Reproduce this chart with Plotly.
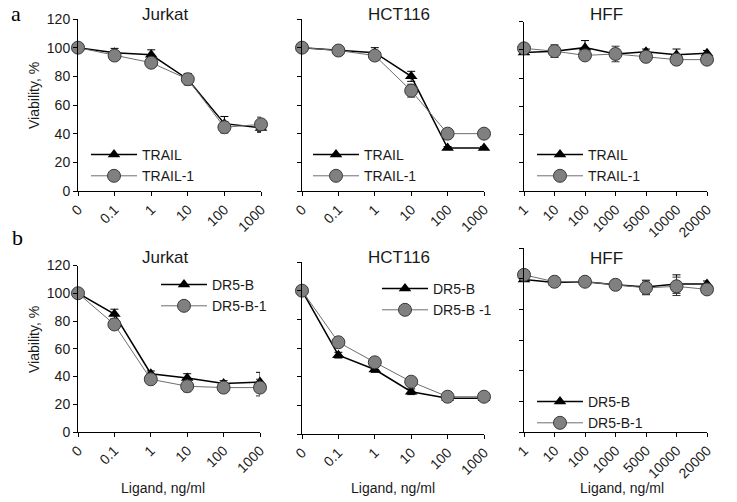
import plotly.graph_objects as go

W, H = 737, 502
OFF = 0  # page body margin is removed below, so page pixels == figure pixels

# ---------------- data ----------------
conc_cancer = ["0", "0.1", "1", "10", "100", "1000"]
conc_hff = ["1", "10", "100", "1000", "5000", "10000", "20000"]

# panel a (TRAIL / TRAIL-1)
jurkat_trail = [100, 96.5, 95, 78, 47, 44]
jurkat_trail_err = [0, 3, 3.5, 4, 5, 3]
jurkat_trail1 = [100, 94.5, 89.5, 78, 44.5, 46.5]
jurkat_trail1_err = [0, 2, 3, 2, 4, 5]

hct_trail = [100, 98, 96.5, 80, 30, 30]
hct_trail_err = [0, 1, 3.5, 3.5, 1, 1]
hct_trail1 = [100, 98, 94.5, 70, 40, 40]
hct_trail1_err = [0, 1, 1.5, 4.5, 1.5, 2]

hff_trail = [98, 99, 101.5, 97, 98.5, 96.5, 97.5]
hff_trail_err = [1, 3, 5, 3, 2, 4, 2]
hff_trail1 = [101, 99, 96, 97, 95, 93, 93]
hff_trail1_err = [1, 4.5, 2, 5.5, 3.5, 2, 2]

# panel b (DR5-B / DR5-B-1)
jurkat_dr5b = [100, 85, 42, 39, 35, 36]
jurkat_dr5b_err = [0, 3.5, 2, 3, 2, 7]
jurkat_dr5b1 = [100, 77.5, 38, 33, 32, 32]
jurkat_dr5b1_err = [0, 2, 2, 4, 3, 6]

hct_dr5b = [100, 55, 45, 29.5, 25, 25]
hct_dr5b_err = [0, 2, 2, 2, 1.5, 1.5]
hct_dr5b1 = [100, 64, 50, 36.5, 26, 26]
hct_dr5b1_err = [0, 1.5, 1.5, 1.5, 1.5, 1.5]

hff_dr5b = [99.5, 97.5, 98, 96, 94.5, 96.5, 96.5]
hff_dr5b_err = [1, 1.5, 1, 1, 4.5, 6, 2]
hff_dr5b1 = [102.5, 98, 98, 96, 94, 95, 93]
hff_dr5b1_err = [1.5, 1.5, 1, 1, 4.5, 6, 1.5]

y_ticks = [0, 20, 40, 60, 80, 100, 120]

# ---------------- layout geometry (page pixels) ----------------
panels = [
    (78, 261, 19, 191, conc_cancer, jurkat_trail, jurkat_trail_err, jurkat_trail1, jurkat_trail1_err,
     "TRAIL", "TRAIL-1", (86, 139)),
    (302, 484, 19, 191, conc_cancer, hct_trail, hct_trail_err, hct_trail1, hct_trail1_err,
     "TRAIL", "TRAIL-1", (308, 139)),
    (524, 707, 21.5, 191, conc_hff, hff_trail, hff_trail_err, hff_trail1, hff_trail1_err,
     "TRAIL", "TRAIL-1", (532, 139)),
    (78, 260, 265.5, 432, conc_cancer, jurkat_dr5b, jurkat_dr5b_err, jurkat_dr5b1, jurkat_dr5b1_err,
     "DR5-B", "DR5-B-1", (156, 269)),
    (302, 484, 262, 434, conc_cancer, hct_dr5b, hct_dr5b_err, hct_dr5b1, hct_dr5b1_err,
     "DR5-B", "DR5-B -1", (377, 273)),
    (524, 707, 248, 432, conc_hff, hff_dr5b, hff_dr5b_err, hff_dr5b1, hff_dr5b1_err,
     "DR5-B", "DR5-B-1", (532, 386)),
]

FONT = "Liberation Sans, Arial, sans-serif"
SERIF = "Liberation Serif, Times New Roman, serif"
TXT = "#1a1a1a"
fig = go.Figure()
layout = dict(
    template="none",
    width=W, height=H, margin=dict(l=0, r=0, t=0, b=0, pad=0),
    paper_bgcolor="white", plot_bgcolor="white",
    font=dict(family=FONT, size=14, color=TXT),
    annotations=[],
)


def px_x(p):
    return (p - OFF) / W


def px_y(p):
    return 1 - (p - OFF) / H


for i, (x0, x1, yt, yb, cats, s1, e1, s2, e2, n1, n2, lpos) in enumerate(panels):
    k = "" if i == 0 else str(i + 1)
    leg = "legend" + k
    fig.add_trace(go.Scatter(
        x=cats, y=s1, name=n1, mode="lines+markers",
        line=dict(color="black", width=1.5),
        marker=dict(symbol="triangle-up", size=11, color="black"),
        error_y=dict(type="data", array=e1, visible=True, color="black", thickness=1, width=4),
        xaxis="x" + k, yaxis="y" + k, legend=leg, cliponaxis=False, hoverinfo="skip",
    ))
    fig.add_trace(go.Scatter(
        x=cats, y=s2, name=n2, mode="lines+markers",
        line=dict(color="#6e6e6e", width=1),
        marker=dict(symbol="circle", size=13, color="#808080", line=dict(color="#3a3a3a", width=1)),
        error_y=dict(type="data", array=e2, visible=True, color="#333333", thickness=1, width=4),
        xaxis="x" + k, yaxis="y" + k, legend=leg, cliponaxis=False, hoverinfo="skip",
    ))
    axis_common = dict(showline=True, linecolor="black", linewidth=1, ticks="outside",
                       ticklen=4, tickcolor="black", tickwidth=1, showgrid=False,
                       zeroline=False, automargin=False)
    layout["xaxis" + k] = dict(
        axis_common, type="category", range=[0, len(cats) - 1],
        domain=[px_x(x0), px_x(x1)], anchor="y" + k, tickangle=-45,
        tickfont=dict(size=14, family=FONT, color=TXT),
    )
    layout["yaxis" + k] = dict(
        axis_common, range=[0, 120], tickvals=y_ticks,
        domain=[px_y(yb), px_y(yt)], anchor="x" + k,
        showticklabels=(i % 3 == 0),
        tickfont=dict(size=14, family=FONT, color=TXT),
    )
    layout[leg] = dict(
        x=px_x(lpos[0]), y=px_y(lpos[1]), xanchor="left", yanchor="top",
        bgcolor="rgba(0,0,0,0)", borderwidth=0, itemwidth=46,
        font=dict(size=14, family=FONT, color=TXT), tracegroupgap=0,
    )

# titles
title_pos = [(165, 15, "Jurkat"), (399, 15, "HCT116"), (606, 15, "HFF"),
             (165, 257, "Jurkat"), (399, 257, "HCT116"), (606, 258, "HFF")]
for tx, ty, tt in title_pos:
    layout["annotations"].append(dict(
        x=px_x(tx), y=px_y(ty), xref="paper", yref="paper", text=tt, showarrow=False,
        xanchor="center", yanchor="middle", font=dict(size=17, family=FONT, color=TXT)))

# y-axis titles
for ty in (96, 340):
    layout["annotations"].append(dict(
        x=px_x(34), y=px_y(ty), xref="paper", yref="paper", text="Viability, %",
        showarrow=False, textangle=-90, xanchor="center", yanchor="middle",
        font=dict(size=14, family=FONT, color=TXT)))

# x-axis titles
for tx in (163, 393, 622):
    layout["annotations"].append(dict(
        x=px_x(tx), y=px_y(488), xref="paper", yref="paper", text="Ligand, ng/ml",
        showarrow=False, xanchor="center", yanchor="middle",
        font=dict(size=14, family=FONT, color=TXT)))

# panel letters
layout["annotations"].append(dict(
    x=px_x(16), y=px_y(0), xref="paper", yref="paper", text="a", showarrow=False,
    xanchor="center", yanchor="top", borderpad=0,
    font=dict(size=22, family=SERIF, color="black")))
layout["annotations"].append(dict(
    x=px_x(17), y=px_y(237), xref="paper", yref="paper", text="b", showarrow=False,
    xanchor="center", yanchor="middle",
    font=dict(size=22, family=SERIF, color="black")))

fig.update_layout(**layout)
fig.write_html("out.html", config={"displayModeBar": False, "staticPlot": True},
               post_script="document.body.style.margin = '0px';")
